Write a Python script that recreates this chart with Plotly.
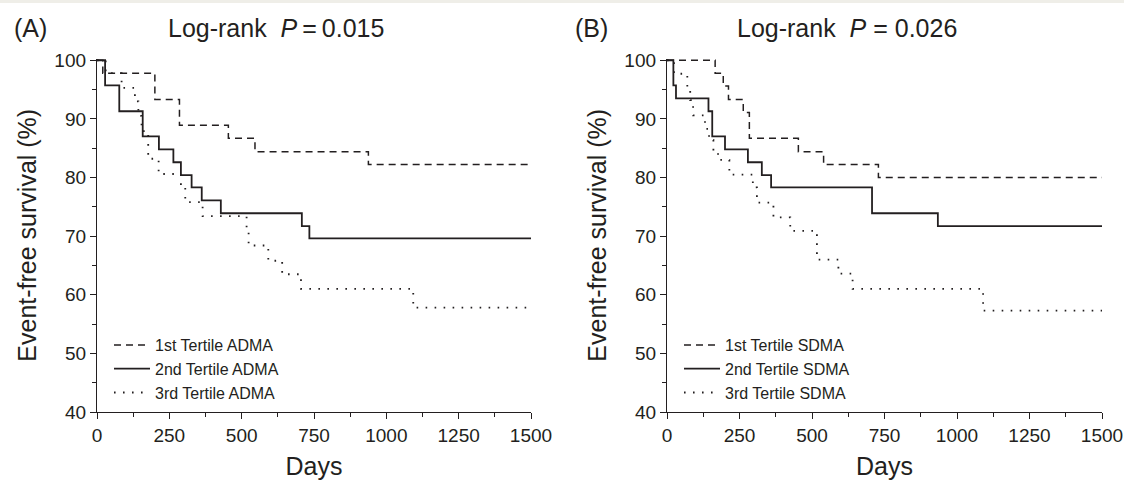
import plotly.graph_objects as go

# ---------------- data ----------------
# Panel A: ADMA tertiles
days_a1 = [0, 20, 200, 285, 454, 546, 938, 1500]
surv_a1 = [100, 97.8, 93.3, 88.9, 86.7, 84.4, 82.2, 82.2]

days_a2 = [0, 28, 77, 158, 214, 264, 290, 327, 362, 428, 708, 734, 1500]
surv_a2 = [100, 95.7, 91.3, 87.0, 84.8, 82.6, 80.4, 78.3, 76.1, 73.9, 71.7, 69.6, 69.6]

days_a3 = [0, 30, 85, 131, 143, 154, 177, 213, 290, 305, 365, 517, 524, 592, 640, 705, 1093, 1500]
surv_a3 = [100, 97.8, 95.3, 93.0, 90.5, 87.9, 83.2, 80.6, 78.3, 75.8, 73.4, 70.9, 68.4, 65.8, 63.5, 61.0, 57.8, 57.8]

# Panel B: SDMA tertiles
days_b1 = [0, 166, 194, 212, 263, 284, 453, 540, 729, 1500]
surv_b1 = [100, 97.8, 95.6, 93.3, 91.1, 86.7, 84.4, 82.2, 80.0, 80.0]

days_b2 = [0, 22, 31, 143, 156, 200, 279, 327, 359, 707, 934, 1500]
surv_b2 = [100, 95.7, 93.5, 91.3, 87.0, 84.8, 82.6, 80.4, 78.3, 73.9, 71.7, 71.7]

days_b3 = [0, 24, 70, 80, 90, 131, 145, 160, 176, 215, 296, 310, 367, 425, 517, 591, 640, 1090, 1500]
surv_b3 = [100, 97.7, 95.5, 93.2, 90.6, 88.3, 86.4, 84.6, 83.0, 80.5, 78.3, 75.7, 73.2, 70.9, 66.0, 63.6, 61.0, 57.3, 57.3]

names_a = ["1st Tertile ADMA", "2nd Tertile ADMA", "3rd Tertile ADMA"]
names_b = ["1st Tertile SDMA", "2nd Tertile SDMA", "3rd Tertile SDMA"]
x_ticks = [0, 250, 500, 750, 1000, 1250, 1500]
y_ticks = [40, 50, 60, 70, 80, 90, 100]
title_a = "Log-rank  <i>P</i>\u2009=\u20090.015"
title_b = "Log-rank  <i>P</i> = 0.026"

# ---------------- styling ----------------
W, H = 1124, 484
INK = "#231f20"
FONT = "Liberation Sans, Arial, sans-serif"
styles = [
    dict(color=INK, width=1.5, dash="7px,5px"),
    dict(color=INK, width=1.8, dash="solid"),
    dict(color=INK, width=1.8, dash="1.6px,7.4px"),
]

def px_x(p):
    return p / W

def px_y(p):
    return 1 - p / H

fig = go.Figure()

for days, surv, name, st in zip([days_a1, days_a2, days_a3], [surv_a1, surv_a2, surv_a3], names_a, styles):
    fig.add_trace(go.Scatter(x=days, y=surv, mode="lines", line=dict(shape="hv", **st),
                             name=name, xaxis="x", yaxis="y", legend="legend"))
for days, surv, name, st in zip([days_b1, days_b2, days_b3], [surv_b1, surv_b2, surv_b3], names_b, styles):
    fig.add_trace(go.Scatter(x=days, y=surv, mode="lines", line=dict(shape="hv", **st),
                             name=name, xaxis="x2", yaxis="y2", legend="legend2"))

y_dom = [px_y(412), px_y(58.5)]

def xaxis(domain, anchor):
    return dict(domain=domain, anchor=anchor, range=[0, 1500], tickvals=x_ticks,
                showline=True, linecolor=INK, linewidth=1.3, ticks="outside", ticklen=6,
                tickwidth=1.3, tickcolor=INK, showgrid=False, zeroline=False,
                tickfont=dict(size=19, color=INK, family=FONT),
                minor=dict(dtick=125, tick0=0, ticks="outside", ticklen=3.5, tickwidth=1.2, tickcolor=INK, showgrid=False),
                title=dict(text="Days", font=dict(size=25, color=INK, family=FONT), standoff=12))

def yaxis(anchor):
    return dict(domain=y_dom, anchor=anchor, range=[40, 100.3], tickvals=y_ticks,
                showline=True, linecolor=INK, linewidth=1.3, ticks="outside", ticklen=6,
                tickwidth=1.3, tickcolor=INK, showgrid=False, zeroline=False,
                tickfont=dict(size=19, color=INK, family=FONT),
                minor=dict(dtick=5, tick0=0, ticks="outside", ticklen=3.5, tickwidth=1.2, tickcolor=INK, showgrid=False),
                title=dict(text="Event-free survival (%)", font=dict(size=25, color=INK, family=FONT), standoff=10))

legend_common = dict(bgcolor="rgba(0,0,0,0)", borderwidth=0, font=dict(size=16, color=INK, family=FONT),
                     xanchor="left", yanchor="top", itemwidth=36, tracegroupgap=0)

fig.update_layout(
    width=W, height=H,
    margin=dict(l=0, r=0, t=0, b=0, autoexpand=False),
    paper_bgcolor="white", plot_bgcolor="white",
    font=dict(family=FONT, color=INK),
    xaxis=xaxis([px_x(97), px_x(531)], "y"),
    yaxis=yaxis("x"),
    xaxis2=xaxis([px_x(667), px_x(1102)], "y2"),
    yaxis2=yaxis("x2"),
    legend=dict(x=px_x(109), y=px_y(328), **legend_common),
    legend2=dict(x=px_x(679), y=px_y(328), **legend_common),
    annotations=[
        dict(text="(A)", x=px_x(12), y=px_y(28), xref="paper", yref="paper", xanchor="left", yanchor="middle",
             showarrow=False, font=dict(size=25, color=INK, family=FONT)),
        dict(text=title_a, x=px_x(166), y=px_y(28), xref="paper", yref="paper", xanchor="left", yanchor="middle",
             showarrow=False, font=dict(size=25, color=INK, family=FONT)),
        dict(text="(B)", x=px_x(573), y=px_y(28), xref="paper", yref="paper", xanchor="left", yanchor="middle",
             showarrow=False, font=dict(size=25, color=INK, family=FONT)),
        dict(text=title_b, x=px_x(735), y=px_y(28), xref="paper", yref="paper", xanchor="left", yanchor="middle",
             showarrow=False, font=dict(size=25, color=INK, family=FONT)),
    ],
    shapes=[dict(type="rect", xref="paper", yref="paper", x0=0, x1=1, y0=px_y(3), y1=1,
                 fillcolor="#efeee8", line=dict(width=0), layer="below")],
)

fig.write_html("out.html")
